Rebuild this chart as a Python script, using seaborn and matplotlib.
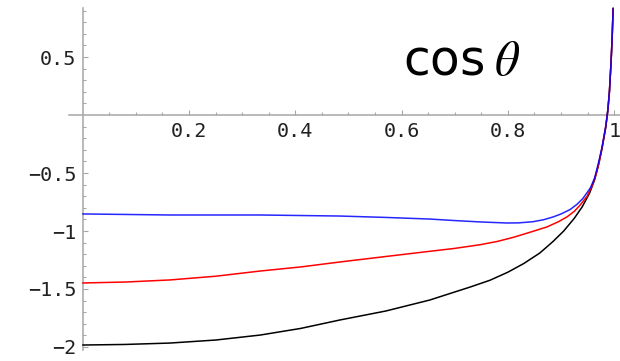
import matplotlib
matplotlib.use("Agg")
import matplotlib.pyplot as plt
import seaborn as sns
import numpy as np
import pandas as pd
from matplotlib.ticker import FixedLocator

# --- curve samples -------------------------------------------------------
x_black = [0.0, 0.08, 0.164, 0.25, 0.334, 0.41, 0.484, 0.57, 0.653, 0.729,
           0.766, 0.80, 0.83, 0.86, 0.885, 0.905, 0.925, 0.94, 0.954, 0.963,
           0.970, 0.977, 0.984, 0.988, 0.991, 0.994, 0.996, 0.998]
y_black = [-1.983, -1.978, -1.966, -1.94, -1.897, -1.84, -1.767, -1.69, -1.595,
           -1.483, -1.425, -1.355, -1.28, -1.19, -1.09, -1.00, -0.89, -0.79,
           -0.67, -0.56, -0.44, -0.29, -0.11, 0.04, 0.2, 0.45, 0.65, 0.92]

x_red = [0.0, 0.08, 0.164, 0.25, 0.334, 0.41, 0.484, 0.57, 0.653, 0.70,
         0.748, 0.78, 0.81, 0.84, 0.873, 0.895, 0.911, 0.925, 0.936, 0.949,
         0.958, 0.966, 0.972, 0.978, 0.984, 0.988, 0.991, 0.994, 0.996, 0.998]
y_red = [-1.448, -1.44, -1.422, -1.39, -1.345, -1.31, -1.267, -1.22, -1.175,
         -1.150, -1.118, -1.09, -1.055, -1.013, -0.966, -0.92, -0.879, -0.83,
         -0.776, -0.700, -0.615, -0.51, -0.40, -0.26, -0.10, 0.04, 0.2, 0.45,
         0.65, 0.92]

x_blue = [0.0, 0.164, 0.334, 0.484, 0.57, 0.653, 0.70, 0.748, 0.798, 0.82,
          0.847, 0.867, 0.885, 0.90, 0.917, 0.93, 0.941, 0.955, 0.963, 0.970,
          0.977, 0.984, 0.988, 0.991, 0.994, 0.996, 0.998]
y_blue = [-0.853, -0.862, -0.862, -0.871, -0.883, -0.897, -0.91, -0.922,
          -0.931, -0.930, -0.920, -0.903, -0.879, -0.853, -0.815, -0.77,
          -0.72, -0.63, -0.545, -0.42, -0.28, -0.10, 0.04, 0.2, 0.45, 0.65,
          0.92]

x_ticks = [0.2, 0.4, 0.6, 0.8, 1.0]
x_labels = ["0.2", "0.4", "0.6", "0.8", "1"]
y_ticks = [0.5, -0.5, -1.0, -1.5, -2.0]
y_labels = ["0.5", "\u22120.5", "\u22121", "\u22121.5", "\u22122"]

sns.set_style("white")
plt.rcParams["font.family"] = ["DejaVu Sans"]
plt.rcParams["mathtext.fontset"] = "stix"

fig = plt.figure(figsize=(6.2, 3.61), dpi=100)
ax = fig.add_axes([0, 0, 1, 1])

curves = [
    (x_black, y_black, "black", 1.0),
    (x_red, y_red, "#ff0000", 1.0),
    (x_blue, y_blue, "#0000ff", 0.85),
]
for xs, ys, col, a in curves:
    df = pd.DataFrame({"x": xs, "y": ys})
    sns.lineplot(data=df, x="x", y="y", ax=ax, color=col, linewidth=1.1,
                 sort=False, estimator=None, alpha=a)

ax.set_xlim(-0.1556, 1.0109)
ax.set_ylim(-2.1207, 0.9914)
ax.set_xlabel("")
ax.set_ylabel("")

# axes crossing at the origin
axis_col = "#a6a6a6"
for side in ("top", "right"):
    ax.spines[side].set_visible(False)
ax.spines["left"].set_position(("data", 0))
ax.spines["bottom"].set_position(("data", 0))
ax.spines["left"].set_bounds(-2.03, 0.925)
ax.spines["bottom"].set_bounds(-0.026, 1.02)
for side in ("left", "bottom"):
    ax.spines[side].set_color(axis_col)
    ax.spines[side].set_linewidth(1.1)
    ax.spines[side].set_zorder(0)

# minor ticks only along the drawn part of each axis
x_minor = np.round(np.arange(0.05, 1.001, 0.05), 2)
y_minor = np.round(np.arange(-2.0, 0.95, 0.1), 1)
y_minor = y_minor[y_minor != 0]

ax.xaxis.set_major_locator(FixedLocator(x_ticks))
ax.xaxis.set_minor_locator(FixedLocator(x_minor))
ax.yaxis.set_major_locator(FixedLocator(y_ticks))
ax.yaxis.set_minor_locator(FixedLocator(y_minor))
ax.set_xticklabels(x_labels)
ax.set_yticklabels(y_labels)

ax.tick_params(which="both", direction="in", color=axis_col, width=0.8,
               bottom=True, left=True, labelcolor="#222222", labelsize=14.5)
ax.tick_params(which="major", length=3.8)
ax.tick_params(which="minor", length=2.2)
ax.tick_params(axis="x", which="major", pad=5)
ax.tick_params(axis="y", which="major", pad=4.5)
for lab in ax.get_xticklabels() + ax.get_yticklabels():
    lab.set_family("DejaVu Sans Mono")

ax.text(0.603, 0.345, r"cos$\;\theta$", fontsize=35, ha="left", va="baseline",
        color="black")

fig.savefig("out.png", dpi=100)
